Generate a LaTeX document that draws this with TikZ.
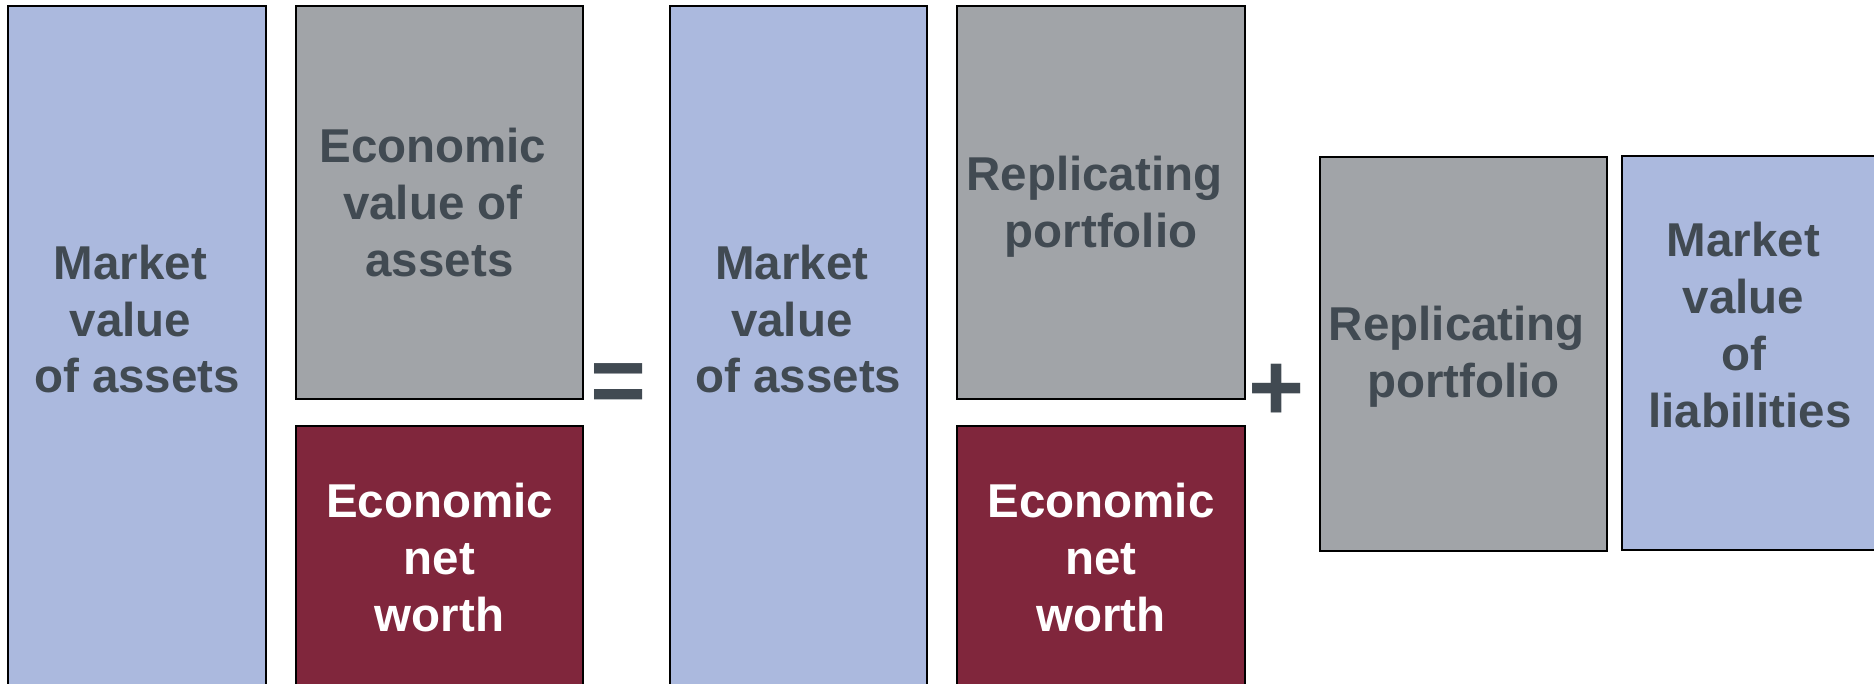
\documentclass[tikz,border=0pt]{standalone}
\usepackage{fontspec}
\setmainfont{Liberation Sans}
\definecolor{assetblue}{RGB}{171,185,222}
\definecolor{portgray}{RGB}{161,164,168}
\definecolor{networth}{RGB}{128,38,60}
\definecolor{inkslate}{RGB}{65,74,82}
% trailing space left by a soft line wrap
\newcommand{\softwrap}{\kern0.278em}
\begin{document}
\begin{tikzpicture}[x=1pt,y=-1pt,
  block/.style={draw=black,line width=1.6pt},
  bluefill/.style={block,fill=assetblue},
  grayfill/.style={block,fill=portgray},
  redfill/.style={block,fill=networth},
  label/.style={font=\bfseries\fontsize{47.5}{57}\selectfont,align=center,anchor=base,inner sep=0pt,text=inkslate},
  whitelabel/.style={label,text=white},
  sign/.style={font=\bfseries\fontsize{96}{96}\selectfont,inner sep=0pt,text=inkslate}]
\useasboundingbox (0,0) rectangle (1874,684);
\begin{scope}
\clip (0,0) rectangle (1874,684);
% left side of the balance sheet
\path[bluefill] (8,6) rectangle (266,720);
\path[grayfill] (296,6) rectangle (583,399);
\path[redfill] (296,426) rectangle (583,720);
% right side of the balance sheet
\path[bluefill] (670,6) rectangle (927,720);
\path[grayfill] (957,6) rectangle (1245,399);
\path[redfill] (957,426) rectangle (1245,720);
% decomposition of the liabilities
\path[grayfill] (1320,157) rectangle (1607,551);
\path[bluefill] (1622,156) rectangle (1880,550);
\end{scope}

% the base anchor of a multi-line label sits on its last line
\node[label] (mva1) at (137,393) {Market\softwrap\\value\softwrap\\of assets};
\node[label] (eva) at (439.5,277) {Economic\softwrap\\value of\softwrap\\assets};
\node[whitelabel] (enw1) at (439.5,631) {Economic\\net\\worth};
\node[sign] (eq) at (618.5,389) {=};
\node[label] (mva2) at (798.5,393) {Market\softwrap\\value\softwrap\\of assets};
\node[label] (rp1) at (1101,248) {Replicating\softwrap\\portfolio};
\node[whitelabel] (enw2) at (1101,631) {Economic\\net\\worth};
\node[sign] (pl) at (1276.5,392) {+};
\node[label] (rp2) at (1463.5,398) {Replicating\softwrap\\portfolio};
\node[label] (mvl) at (1750,428) {Market\softwrap\\value\softwrap\\of\softwrap\\liabilities};
\end{tikzpicture}
\end{document}
